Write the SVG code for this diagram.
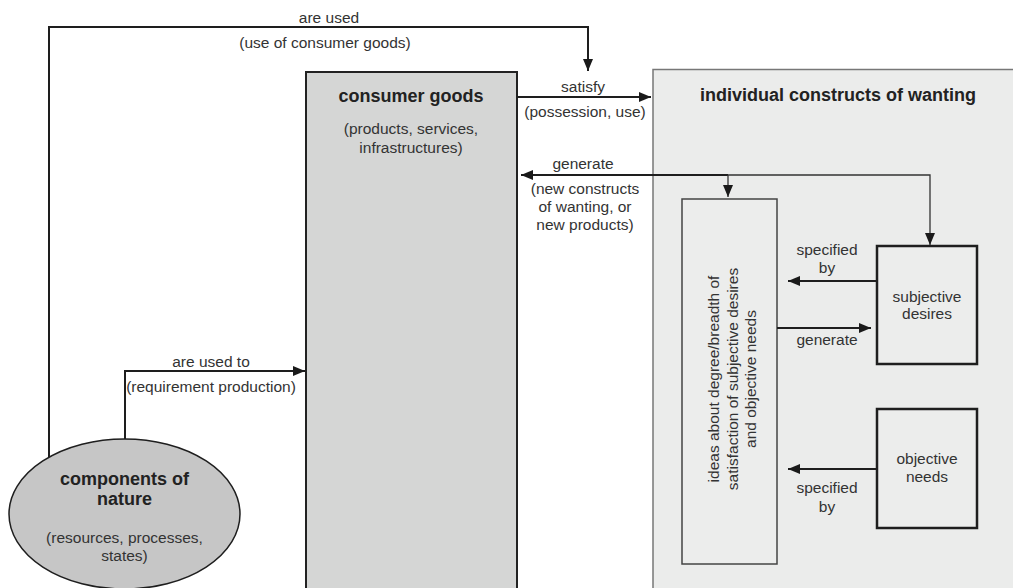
<svg xmlns="http://www.w3.org/2000/svg" width="1013" height="588" viewBox="0 0 1013 588">
<defs>
<marker id="ah" markerWidth="12" markerHeight="10" refX="12" refY="5" orient="auto" markerUnits="userSpaceOnUse">
<path d="M0,0 L12,5 L0,10 Z" fill="#1a1a1a"/>
</marker>
</defs>
<style>
text{font-family:"Liberation Sans",Arial,sans-serif;font-size:15.5px;fill:#333;text-anchor:middle}
.b{font-weight:bold;font-size:18px;fill:#222}
.ln{fill:none;stroke:#1e1e1e;stroke-width:2}
.thin{fill:none;stroke:#333;stroke-width:1.3}
</style>
<rect width="1013" height="588" fill="#fff"/>
<g id="wanting">
<rect x="653" y="69.5" width="362" height="522" fill="#ebeceb" stroke="#777" stroke-width="1.5"/>
<text class="b" x="838" y="101">individual constructs of wanting</text>
</g>
<g id="consumer-goods">
<rect x="306" y="72" width="211" height="520" fill="#d5d6d5" stroke="#222" stroke-width="2"/>
<text class="b" x="411" y="102">consumer goods</text>
<text x="411" y="134">(products, services,</text>
<text x="411" y="153">infrastructures)</text>
</g>
<g id="ideas">
<rect x="682" y="199" width="95" height="365" fill="#ecedec" stroke="#444" stroke-width="1.5"/>
<g transform="translate(719,379) rotate(-90)">
<text x="0" y="0">ideas about degree/breadth of</text>
<text x="0" y="18.5">satisfaction of subjective desires</text>
<text x="0" y="37">and objective needs</text>
</g>
</g>
<g id="subjective-desires">
<rect x="877" y="246" width="100" height="118" fill="#ecedec" stroke="#1e1e1e" stroke-width="2.5"/>
<text x="927" y="302">subjective</text>
<text x="927" y="319">desires</text>
</g>
<g id="objective-needs">
<rect x="877" y="409" width="100" height="119" fill="#ecedec" stroke="#1e1e1e" stroke-width="2.5"/>
<text x="927" y="464">objective</text>
<text x="927" y="482">needs</text>
</g>
<g id="nature">
<ellipse cx="124.5" cy="514" rx="115.5" ry="75" fill="#c6c6c6" stroke="#1e1e1e" stroke-width="1.5"/>
<text class="b" x="124.5" y="485">components of</text>
<text class="b" x="124.5" y="505">nature</text>
<text x="124.5" y="543">(resources, processes,</text>
<text x="124.5" y="561">states)</text>
</g>
<g id="connectors">
<path class="ln" d="M49,457 V27 H588 V71" marker-end="url(#ah)"/>
<path class="ln" d="M125,439 V371 H305" marker-end="url(#ah)"/>
<path class="ln" d="M517,97 H651" marker-end="url(#ah)"/>
<path class="ln" d="M728,175 H521" marker-end="url(#ah)"/>
<path class="thin" d="M728,175 H930 V245" marker-end="url(#ah)"/>
<path class="thin" d="M728,175 V197" marker-end="url(#ah)"/>
<path class="ln" d="M877,281 H788" marker-end="url(#ah)"/>
<path class="ln" d="M777,328 H871" marker-end="url(#ah)"/>
<path class="ln" d="M877,469 H788" marker-end="url(#ah)"/>
</g>
<g id="labels">
<text x="329" y="23">are used</text>
<text x="325" y="48">(use of consumer goods)</text>
<text x="583" y="92">satisfy</text>
<text x="585" y="117">(possession, use)</text>
<text x="583" y="169">generate</text>
<text x="585" y="194">(new constructs</text>
<text x="585" y="212">of wanting, or</text>
<text x="585" y="230">new products)</text>
<text x="211" y="367">are used to</text>
<text x="211" y="392">(requirement production)</text>
<text x="827" y="255">specified</text>
<text x="827" y="273">by</text>
<text x="827" y="345">generate</text>
<text x="827" y="493">specified</text>
<text x="827" y="512">by</text>
</g>
</svg>
